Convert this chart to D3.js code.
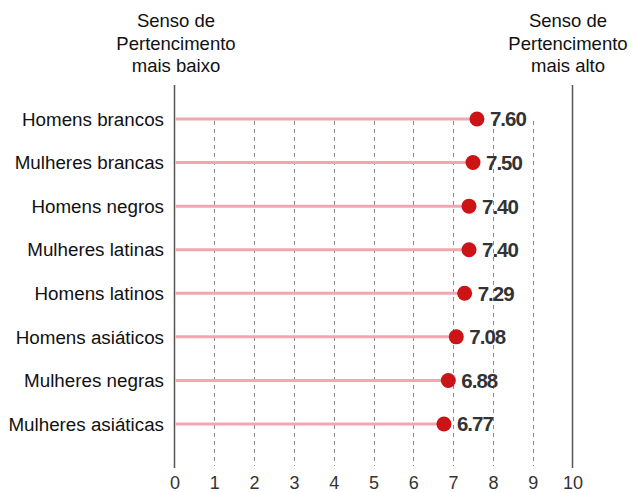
<!DOCTYPE html>
<html>
<head>
<meta charset="utf-8">
<script src="https://cdn.jsdelivr.net/npm/d3@7"></script>
<style>
  html, body { margin: 0; padding: 0; background: #fff; }
  svg { display: block; font-family: "Liberation Sans", Arial, sans-serif; }
</style>
</head>
<body>
<svg id="chart" width="631" height="492"></svg>
<script>
// Groups, top to bottom
const groups = [
  "Homens brancos", "Mulheres brancas", "Homens negros", "Mulheres latinas",
  "Homens latinos", "Homens asiáticos", "Mulheres negras", "Mulheres asiáticas"
];
// Average sense-of-belonging score per group
const scores = [7.60, 7.50, 7.40, 7.40, 7.29, 7.08, 6.88, 6.77];
const ticks = [0, 1, 2, 3, 4, 5, 6, 7, 8, 9, 10];
const leftHeader = ["Senso de", "Pertencimento", "mais baixo"];
const rightHeader = ["Senso de", "Pertencimento", "mais alto"];

const svg = d3.select("#chart");
const x = d3.scaleLinear().domain([0, 10]).range([174.5, 572.5]);
const y = d3.scalePoint().domain(groups).range([119, 424]);

// Dashed gridlines for the inner ticks
svg.append("g").selectAll("line")
  .data(ticks.filter(t => t > 0 && t < 10))
  .join("line")
  .attr("x1", d => Math.round(x(d)) + 0.5).attr("x2", d => Math.round(x(d)) + 0.5)
  .attr("y1", 121).attr("y2", 466)
  .attr("stroke", "#8a8a8a").attr("stroke-width", 1)
  .attr("stroke-dasharray", "4,4");

// Solid bounds at 0 and 10
svg.append("g").selectAll("line")
  .data([0, 10])
  .join("line")
  .attr("x1", d => x(d)).attr("x2", d => x(d))
  .attr("y1", 85).attr("y2", 468)
  .attr("stroke", "#555").attr("stroke-width", 1.5);

// Bottom axis labels
const axis = d3.axisBottom(x).tickValues(ticks).tickSize(0).tickPadding(0).tickFormat(d3.format("d"));
const ax = svg.append("g").attr("transform", "translate(0,472)").call(axis);
ax.select(".domain").remove();
ax.selectAll("text")
  .attr("dy", "0.95em")
  .attr("font-family", "Liberation Sans, Arial, sans-serif")
  .attr("font-size", 18).attr("fill", "#333");

// Headers
function header(lines, cx) {
  const t = svg.append("text").attr("text-anchor", "middle")
    .attr("font-size", 18.5).attr("fill", "#111");
  lines.forEach((l, i) => t.append("tspan").attr("x", cx).attr("y", 27 + i * 22.5).text(l));
}
header(leftHeader, 176);
header(rightHeader, 568);

const rows = svg.append("g").selectAll("g")
  .data(groups.map((g, i) => ({ g, v: scores[i] })))
  .join("g");

// Stems
rows.append("line")
  .attr("x1", x(0) + 1).attr("x2", d => x(d.v))
  .attr("y1", d => y(d.g)).attr("y2", d => y(d.g))
  .attr("stroke", "#f2a6b0").attr("stroke-width", 3);

// Dots
rows.append("circle")
  .attr("cx", d => x(d.v)).attr("cy", d => y(d.g)).attr("r", 7.5)
  .attr("fill", "#cc1316");

// Value labels
rows.append("text")
  .attr("x", d => x(d.v) + 13).attr("y", d => y(d.g)).attr("dy", "0.36em")
  .attr("font-size", 20.5).attr("font-weight", "bold").attr("fill", "#333")
  .attr("letter-spacing", "-1")
  .text(d => d.v.toFixed(2));

// Category labels
rows.append("text")
  .attr("x", 164).attr("y", d => y(d.g)).attr("dy", "0.36em")
  .attr("text-anchor", "end")
  .attr("font-size", 18.8).attr("fill", "#111")
  .text(d => d.g);
</script>
</body>
</html>
